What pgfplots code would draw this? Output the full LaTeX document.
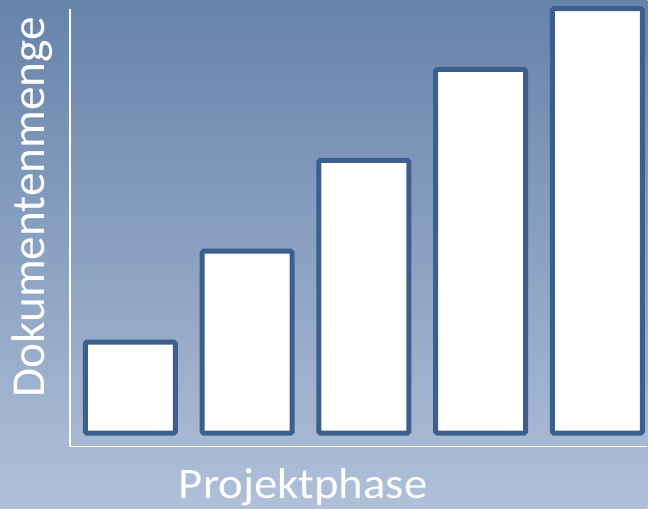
\documentclass[border=0pt]{standalone}
\usepackage{pgfplots}
\pgfplotsset{compat=1.18}
\usepackage{fontspec}
\setmainfont{Carlito}
\definecolor{bgtop}{HTML}{6683AA}
\definecolor{bgbot}{HTML}{B0C0D9}
\definecolor{barline}{HTML}{3C5F8E}
\begin{document}
\begin{tikzpicture}[x=1pt,y=1pt]
\shade[top color=bgtop, bottom color=bgbot] (0,0) rectangle (648,509);
\begin{axis}[
  at={(70pt,62pt)}, anchor=south west,
  scale only axis, width=578pt, height=438pt,
  xmin=-0.5175, xmax=4.427, ymin=-0.148, ymax=4.665,
  axis x line=bottom, axis y line=left,
  axis line style={-, white, line width=1.5pt},
  xtick=\empty, ytick=\empty,
  clip=false,
  ybar, bar width=0.770,
]
\addplot[fill=white, draw=barline, line width=5pt, rounded corners=1.5pt]
  coordinates {(0,1) (1,2) (2,3) (3,4) (4,4.67)};
\end{axis}
\node[white, font=\fontsize{43.5}{52}\selectfont, anchor=base, xscale=1.076] at (303.5,10) {Projektphase};
\node[white, font=\fontsize{47.3}{56}\selectfont, rotate=90, anchor=base] at (45,301.5) {Dokumentenmenge};
\end{tikzpicture}
\end{document}
